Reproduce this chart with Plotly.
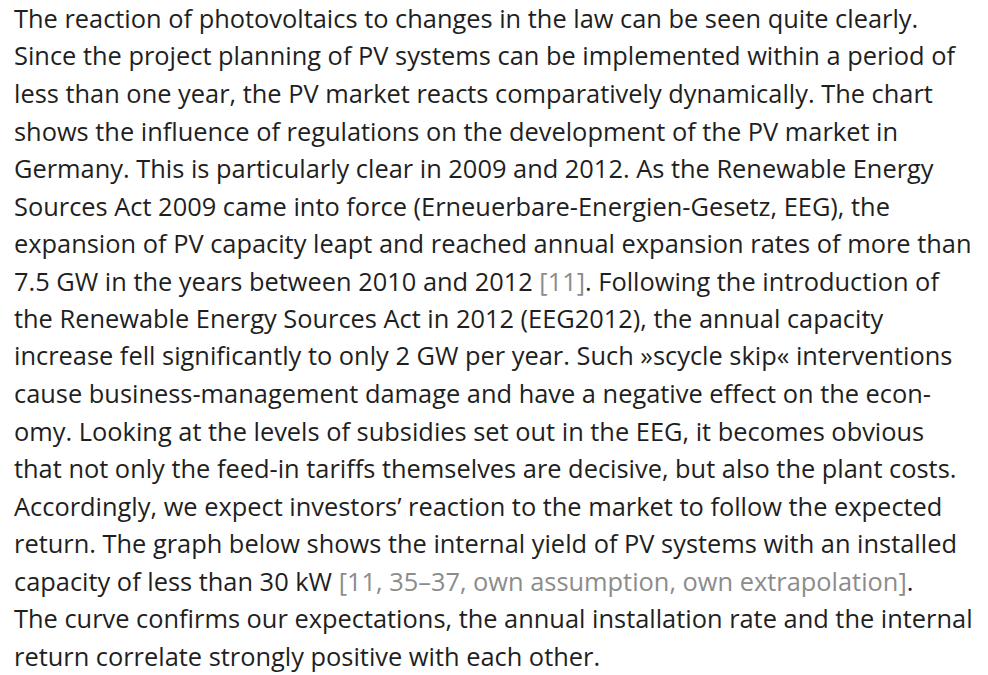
import plotly.graph_objects as go

# Paragraph text, line by line (as laid out in the reference)
lines = [
    "The reaction of photovoltaics to changes in the law can be seen quite clearly.",
    "Since the project planning of PV systems can be implemented within a period of",
    "less than one year, the PV market reacts comparatively dynamically. The chart",
    "shows the influence of regulations on the development of the PV market in",
    "Germany. This is particularly clear in 2009 and 2012. As the Renewable Energy",
    "Sources Act 2009 came into force (Erneuerbare-Energien-Gesetz, EEG), the",
    "expansion of PV capacity leapt and reached annual expansion rates of more than",
    "7.5 GW in the years between 2010 and 2012 {[11]}. Following the introduction of",
    "the Renewable Energy Sources Act in 2012 (EEG2012), the annual capacity",
    "increase fell significantly to only 2 GW per year. Such »scycle skip« interventions",
    "cause business-management damage and have a negative effect on the econ-",
    "omy. Looking at the levels of subsidies set out in the EEG, it becomes obvious",
    "that not only the feed-in tariffs themselves are decisive, but also the plant costs.",
    "Accordingly, we expect investors’ reaction to the market to follow the expected",
    "return. The graph below shows the internal yield of PV systems with an installed",
    "capacity of less than 30 kW {[11, 35–37, own assumption, own extrapolation]}.",
    "The curve confirms our expectations, the annual installation rate and the internal",
    "return correlate strongly positive with each other.",
]

TEXT_COLOR = "#1f1f1f"
REF_COLOR = "#8c8c8c"

W, H = 988, 675
LEFT_PX = 12
FIRST_CENTER = 18
LINE_STEP = 37.5
FONT_SIZE = 25.4


def fmt(line):
    return (line.replace("{", f"<span style='color:{REF_COLOR}'>")
                .replace("}", "</span>"))


fig = go.Figure()
annotations = []
for i, line in enumerate(lines):
    center_px = FIRST_CENTER + i * LINE_STEP
    annotations.append(dict(
        x=LEFT_PX / W, y=1 - center_px / H,
        xref="paper", yref="paper",
        xanchor="left", yanchor="middle",
        text=fmt(line), showarrow=False,
        font=dict(family="Open Sans", size=FONT_SIZE, color=TEXT_COLOR),
        align="left",
    ))

fig.update_layout(
    width=W, height=H,
    margin=dict(l=0, r=0, t=0, b=0),
    paper_bgcolor="white", plot_bgcolor="white",
    xaxis=dict(visible=False, range=[0, 1]),
    yaxis=dict(visible=False, range=[0, 1]),
    annotations=annotations,
    showlegend=False,
)

fig.write_html(
    "out.html",
    config={"displayModeBar": False},
    post_script="document.body.style.margin='0';document.body.style.overflow='hidden';",
)
